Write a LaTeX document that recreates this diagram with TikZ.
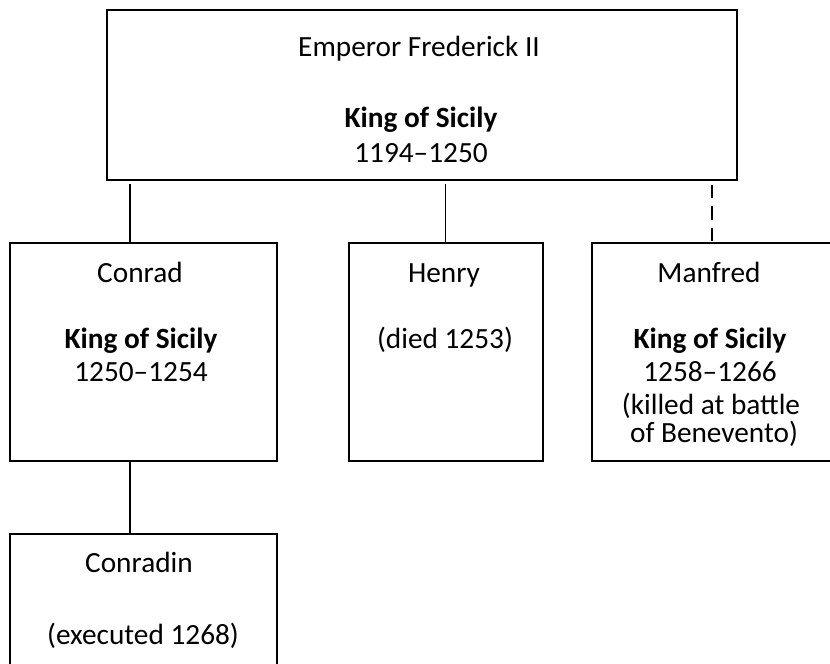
\documentclass[tikz,border=0pt]{standalone}
\usepackage{fontspec}
\setmainfont{Carlito}
\begin{document}
\begin{tikzpicture}[x=1pt,y=-1pt,
  box/.style={draw=black,line width=1.9pt,rectangle,inner sep=0pt,anchor=north west},
  lbl/.style={anchor=base,inner sep=0pt,font=\fontsize{29.3}{34}\selectfont},
  bl/.style={lbl,font=\fontsize{29.3}{34}\selectfont\bfseries},
  link/.style={draw=black,line width=1.2pt},
  dlink/.style={draw=black,line width=2.3pt,dash pattern=on 13.5pt off 8pt}]
\useasboundingbox (0,0) rectangle (830,664);
% boxes
\node[box,minimum width=630pt,minimum height=170pt] (fred) at (106,9) {};
\node[box,minimum width=267pt,minimum height=218pt] (conrad) at (9,242) {};
\node[box,minimum width=194pt,minimum height=218pt] (henry) at (348,242) {};
\node[box,minimum width=260pt,minimum height=218pt] (manfred) at (591,242) {};
\node[box,minimum width=267pt,minimum height=150pt] (conradin) at (9,533) {};
% connectors
\coordinate (fc) at (130,184);
\coordinate (fh) at (445.5,184);
\coordinate (fm) at (712,184.5);
\draw[link] (fc) -- (fc |- conrad.north);
\draw[link] (fh) -- (fh |- henry.north);
\draw[dlink] (fm) -- (fm |- manfred.north);
\draw[link] (fc |- conrad.south) -- (fc |- conradin.north);
% texts
\node[lbl] (t1) at (419,56) {Emperor Frederick II};
\node[bl] (t2) at (421,127) {King of Sicily};
\node[lbl] (t3) at (421,162) {1194–1250};
\node[lbl] (c1) at (140,282) {Conrad};
\node[bl] (c2) at (141,348) {King of Sicily};
\node[lbl] (c3) at (141,381) {1250–1254};
\node[lbl] (h1) at (444,282) {Henry};
\node[lbl] (h2) at (445,348) {(died 1253)};
\node[lbl] (m1) at (709,282) {Manfred};
\node[bl] (m2) at (710,348) {King of Sicily};
\node[lbl] (m3) at (710,381) {1258–1266};
\node[lbl] (m4) at (711,414) {(killed at battle};
\node[lbl] (m5) at (714,442) {of Benevento)};
\node[lbl] (k1) at (139,572) {Conradin};
\node[lbl] (k2) at (143,644) {(executed 1268)};
\end{tikzpicture}
\end{document}
